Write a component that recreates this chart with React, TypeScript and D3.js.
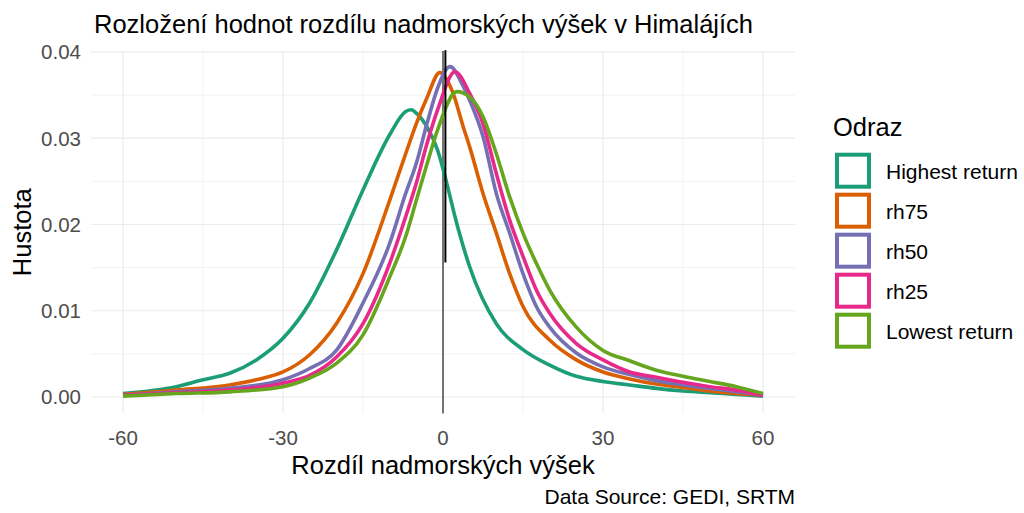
import React from "react";
import * as d3 from "d3";

const title = "Rozložení hodnot rozdílu nadmorských výšek v Himalájích";
const xLabel = "Rozdíl nadmorských výšek";
const yLabel = "Hustota";
const caption = "Data Source: GEDI, SRTM";
const legendTitle = "Odraz";

const xTicks = [-60, -30, 0, 30, 60];
const xMinor = [-45, -15, 15, 45];
const yTicks = [0, 0.01, 0.02, 0.03, 0.04];
const yMinor = [0.005, 0.015, 0.025, 0.035];

const seriesNames = ["Highest return", "rh75", "rh50", "rh25", "Lowest return"];
const seriesColors = ["#1B9E77", "#D95F02", "#7570B3", "#E7298A", "#66A61E"];

const highestX = [-60, -50, -45, -40, -35, -30, -25, -20, -15, -10, -7, -5.9, -5, -3, -1, 0.7, 2.25, 5, 10, 15, 20, 25, 30, 35, 40, 45, 50, 55, 60];
const highestY = [0.0004, 0.0012, 0.002, 0.00275, 0.0043, 0.0068, 0.0109, 0.017, 0.024, 0.0304, 0.0331, 0.0333, 0.0329, 0.0313, 0.0286, 0.0248, 0.0209, 0.0151, 0.0085, 0.0055, 0.0037, 0.0024, 0.0018, 0.0014, 0.001, 0.0007, 0.0005, 0.0003, 0.0001];

const rh75X = [-60, -50, -40, -35, -30, -25, -20, -15, -10, -7, -5, -3, -0.6, 1.9, 3.8, 5, 7.5, 10, 12.5, 15, 20, 25, 30, 35, 40, 45, 50, 55, 60];
const rh75Y = [0.0003, 0.0008, 0.0014, 0.002, 0.0029, 0.0049, 0.0085, 0.0143, 0.0228, 0.0282, 0.0317, 0.0347, 0.0376, 0.0352, 0.0313, 0.029, 0.0236, 0.019, 0.0143, 0.0105, 0.0066, 0.0043, 0.0029, 0.0021, 0.0015, 0.0011, 0.0007, 0.0004, 0.0002];

const rh50X = [-60, -50, -40, -30, -25, -20, -15, -10, -7, -5, -3, -0.9, 1.3, 3.8, 5, 7.5, 10, 12.5, 15, 17.5, 20, 25, 30, 35, 40, 45, 50, 55, 60];
const rh50Y = [0.0002, 0.0006, 0.001, 0.002, 0.0033, 0.0054, 0.0109, 0.0178, 0.0236, 0.0271, 0.0317, 0.036, 0.0383, 0.036, 0.0344, 0.0302, 0.0236, 0.019, 0.0143, 0.0105, 0.0081, 0.0051, 0.0035, 0.0026, 0.0019, 0.0014, 0.001, 0.0006, 0.0002];

const rh25X = [-60, -50, -40, -30, -25, -20, -15, -10, -7, -5, -3, -0.9, 2.25, 5, 7.5, 10, 12.5, 15, 17.5, 20, 25, 30, 35, 40, 45, 50, 55, 60];
const rh25Y = [0.0002, 0.0005, 0.0008, 0.0016, 0.0025, 0.0046, 0.0085, 0.0155, 0.0209, 0.0248, 0.0294, 0.0335, 0.0377, 0.0352, 0.0317, 0.0259, 0.0205, 0.0163, 0.0124, 0.0097, 0.0062, 0.0043, 0.0029, 0.0023, 0.0017, 0.0012, 0.0008, 0.0002];

const lowestX = [-60, -50, -40, -30, -25, -20, -15, -10, -7, -5, -3, -1, 2.6, 5, 7.5, 10, 12.5, 15, 17.5, 20, 25, 30, 35, 40, 45, 50, 55, 60];
const lowestY = [0.0001, 0.0004, 0.0006, 0.0012, 0.0022, 0.0039, 0.0072, 0.0139, 0.0186, 0.0228, 0.027, 0.031, 0.0354, 0.0348, 0.0325, 0.0282, 0.0232, 0.019, 0.0155, 0.0124, 0.0081, 0.0054, 0.0042, 0.0031, 0.0024, 0.0018, 0.0012, 0.0004];

const seriesX = [highestX, rh75X, rh50X, rh25X, lowestX];
const seriesY = [highestY, rh75Y, rh50Y, rh25Y, lowestY];

const refLineX = 0;
const segLineX = 0.45;
const segLineY = [0.0156, 0.0402];

const W = 1024;
const H = 513;
const FONT = "'Liberation Sans', Arial, sans-serif";
const TICK_FS = 20.5;
const TITLE_FS = 25.5;
const LEG_FS = 21;

export default function App() {
  const x = d3.scaleLinear().domain([-66, 66]).range([91, 795]);
  const y = d3.scaleLinear().domain([-0.0019, 0.0401]).range([413.4, 51.1]);
  const line = d3
    .line<[number, number]>()
    .x((d) => x(d[0]))
    .y((d) => y(d[1]))
    .curve(d3.curveMonotoneX);
  const [x0, x1] = x.range();
  const [yb, yt] = y.range();

  return (
    <svg
      width={W}
      height={H}
      style={{ position: "absolute", left: 0, top: 0, fontFamily: FONT }}
    >
      <rect width={W} height={H} fill="#fff" />
      {xMinor.map((v) => (
        <line key={"xm" + v} x1={x(v)} x2={x(v)} y1={yb} y2={yt} stroke="#f2f2f2" strokeWidth={1} />
      ))}
      {yMinor.map((v) => (
        <line key={"ym" + v} x1={x0} x2={x1} y1={y(v)} y2={y(v)} stroke="#f2f2f2" strokeWidth={1} />
      ))}
      {xTicks.map((v) => (
        <line key={"xg" + v} x1={x(v)} x2={x(v)} y1={yb} y2={yt} stroke="#ebebeb" strokeWidth={1.2} />
      ))}
      {yTicks.map((v) => (
        <line key={"yg" + v} x1={x0} x2={x1} y1={y(v)} y2={y(v)} stroke="#ebebeb" strokeWidth={1.2} />
      ))}
      <line x1={x(refLineX)} x2={x(refLineX)} y1={yb} y2={yt} stroke="#4a4a4a" strokeWidth={1.5} />
      {seriesNames.map((n, i) => (
        <path
          key={n}
          d={line(seriesX[i].map((v, j) => [v, seriesY[i][j]] as [number, number])) || ""}
          fill="none"
          stroke={seriesColors[i]}
          strokeWidth={3.6}
          strokeLinejoin="round"
        />
      ))}
      <line
        x1={x(segLineX)}
        x2={x(segLineX)}
        y1={y(segLineY[0])}
        y2={y(segLineY[1])}
        stroke="#000"
        strokeWidth={2}
      />
      {xTicks.map((v) => (
        <text key={"xt" + v} x={x(v)} y={445} textAnchor="middle" fontSize={TICK_FS} fill="#4d4d4d">
          {v}
        </text>
      ))}
      {yTicks.map((v) => (
        <text key={"yt" + v} x={81} y={y(v) + 7.3} textAnchor="end" fontSize={TICK_FS} fill="#4d4d4d">
          {v.toFixed(2)}
        </text>
      ))}
      <text x={94} y={33} fontSize={TITLE_FS} fill="#000">
        {title}
      </text>
      <text x={443} y={474} textAnchor="middle" fontSize={TITLE_FS} fill="#000">
        {xLabel}
      </text>
      <text
        transform={`translate(31,${(yb + yt) / 2}) rotate(-90)`}
        textAnchor="middle"
        fontSize={TITLE_FS}
        fill="#000"
      >
        {yLabel}
      </text>
      <text x={795} y={504} textAnchor="end" fontSize={LEG_FS} fill="#000">
        {caption}
      </text>
      <text x={833} y={136} fontSize={TITLE_FS} fill="#000">
        {legendTitle}
      </text>
      {seriesNames.map((n, i) => (
        <g key={"lg" + n} transform={`translate(0,${152.7 + i * 40})`}>
          <rect x={837} y={2} width={32} height={32} fill="#fff" stroke={seriesColors[i]} strokeWidth={4} />
          <text x={886} y={26.5} fontSize={LEG_FS} fill="#000">
            {n}
          </text>
        </g>
      ))}
    </svg>
  );
}
